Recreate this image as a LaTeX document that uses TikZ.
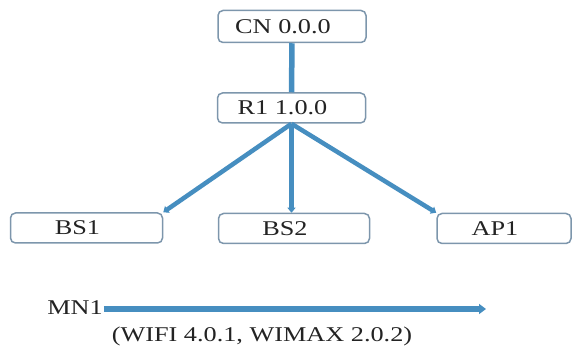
\documentclass[tikz,border=0pt]{standalone}
\usepackage{fontspec}
\setmainfont{Liberation Serif}[FakeStretch=1.25]
\usetikzlibrary{arrows.meta}
\definecolor{linkblue}{RGB}{70,142,192}
\definecolor{boxgray}{RGB}{125,150,172}
\definecolor{textgray}{RGB}{35,35,35}
\tikzset{
	netbox/.style={draw=boxgray, line width=1.5pt, rounded corners=5pt, minimum height=30pt, inner sep=0pt, text=textgray, execute at end node={\hspace*{18pt}}},
	link/.style={draw=linkblue, line width=4.5pt},
	linkarrow/.style={link, -{Triangle[length=5pt,width=8pt]}},
	label/.style={text=textgray, inner sep=1pt}
}
\begin{document}
\begin{tikzpicture}[x=1pt, y=-1pt, font=\fontsize{21pt}{25pt}\selectfont]
				\useasboundingbox (0,0) rectangle (574,358);
				\node[netbox, minimum width=148pt, minimum height=32pt] (CN) at (292,26.5) {CN 0.0.0};
				\node[netbox, minimum width=148pt] (R1) at (291.5,108) {R1 1.0.0};
				\node[netbox, minimum width=152pt] (BS1) at (86.5,228) {BS1};
				\node[netbox, minimum width=151pt] (BS2) at (294,228.5) {BS2};
				\node[netbox, minimum width=134pt] (AP1) at (504,228.5) {AP1};
				\node[label] (MN1) at (75,308) {MN1};
				\node[label] (tech) at (262,336) {(WIFI 4.0.1, WIMAX 2.0.2)};
				\coordinate (mnend) at (486,309);
				\draw[link, line width=5.5pt] (CN) -- (R1);
				\draw[linkarrow] (R1.south) -- (BS1.north east);
				\draw[linkarrow] (R1.south) -- (R1.south |- BS2.north);
				\draw[linkarrow] (R1.south) -- (AP1.north west);
				\draw[link, line width=6pt, -{Triangle[length=7pt,width=10pt]}] (MN1.east |- mnend) -- (mnend);
			\end{tikzpicture}
\end{document}
